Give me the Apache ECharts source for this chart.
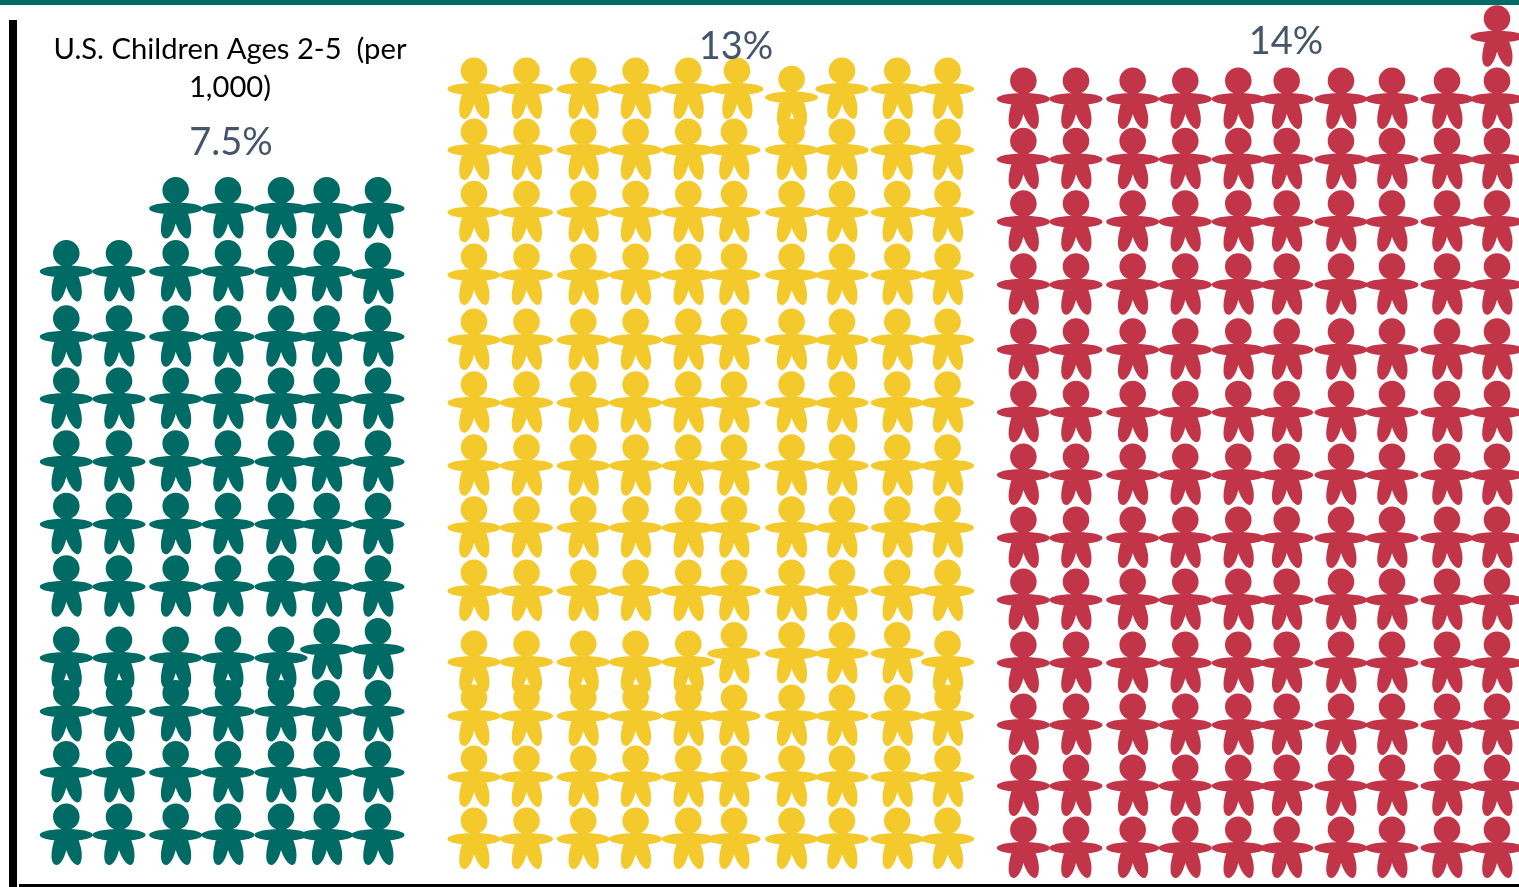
<!DOCTYPE html>
<html>
<head>
<meta charset="utf-8">
<style>html,body{margin:0;padding:0;background:#fff}#c{width:1519px;height:887px}</style>
<script src="https://cdn.jsdelivr.net/npm/echarts@6/dist/echarts.min.js"></script>
</head>
<body>
<div id="c"></div>
<script>
// Values, in the chart's 1519 x 887 axis units.
const heading = 'U.S. Children Ages 2-5  (per\n1,000)';
const shares = ['7.5%', '13%', '14%'];

const tealColumns = [66.3, 119, 175.7, 228, 281, 326.7, 378];
const tealRows = [208.5, 271.5, 336.7, 399, 461.7, 524.3, 586.7, 658, 711.5, 772.5, 835];
const yellowColumns = [474, 526.5, 583.3, 635.6, 688.3, 734, 791.6, 842, 897.3, 947.6];
const yellowRows = [89, 150, 212.3, 275, 340, 402.7, 465.7, 527.7, 591, 662, 716, 777, 839];
const redColumns = [1023.4, 1076, 1132.7, 1185.3, 1238.3, 1286.7, 1341, 1392, 1447, 1497];
const redRows = [99, 159.3, 221.7, 284.7, 349.7, 412.3, 475, 538, 600, 663, 725, 786, 848];

// [column, row] slots the picture leaves empty
const tealEmpty = [[0, 0], [1, 0]];
// [column, row, x shift, y shift] figures that sit off their slot
const tealShifted = [[6, 1, 0, 2.5], [5, 7, 0, -8.5], [6, 7, 0, -8.5]];
const yellowShifted = [[5, 0, 3, 0], [6, 0, 0, 8.3], [5, 9, 0, -8.5], [6, 9, 0, -8.5], [7, 9, 0, -8.5], [8, 9, 0, -8.5]];
// one figure above the grid, top right
const redExtra = [[1497, 36.7]];

const childPath = 'path://' +
  'M0 -31.5C7.35 -31.5 13.3 -25.55 13.3 -18.2C13.3 -10.85 7.35 -4.9 0 -4.9C-7.35 -4.9 -13.3 -10.85 -13.3 -18.2C-13.3 -25.55 -7.35 -31.5 0 -31.5Z' +
  'M-26.5 0C-26.5 -3.6 -14 -5.9 0 -5.9C14 -5.9 26.5 -3.6 26.5 0C26.5 3.6 14 5.9 0 5.9C-14 5.9 -26.5 3.6 -26.5 0Z' +
  'M-11.5 3L11.5 3C13.8 9 15.8 15 15.5 21C15.3 26 14 30 11.5 30C8 30 3 24 0 15C-2 23 -5.5 30 -9.7 30C-13 30 -14.8 26 -14.8 21C-14.8 15 -13.2 9 -11.5 3Z';

function figures(cols, rows, empty, shifted, extra) {
  const out = [];
  rows.forEach((y, r) => cols.forEach((x, c) => {
    if (empty.some(e => e[0] === c && e[1] === r)) return;
    const s = shifted.find(e => e[0] === c && e[1] === r);
    out.push(s ? [x + s[2], y + s[3]] : [x, y]);
  }));
  return out.concat(extra);
}
function people(name, color, data) {
  return {
    name, type: 'scatter', data, symbol: childPath, symbolSize: [53, 61.5], symbolOffset: [0, -0.75],
    itemStyle: { color, opacity: 1 }, silent: true, animation: false
  };
}
const pctStyle = { color: '#44546A', fontFamily: 'Lato', fontSize: 38, fontWeight: 'normal' };

const chart = echarts.init(document.getElementById('c'), null, { renderer: 'canvas' });
chart.setOption({
  animation: false,
  backgroundColor: '#fff',
  grid: { left: 0, right: 0, top: 0, bottom: 0 },
  xAxis: { type: 'value', min: 0, max: 1519, show: false },
  yAxis: { type: 'value', min: 0, max: 887, inverse: true, show: false },
  title: [
    { text: heading, left: 230, top: 31, textAlign: 'center',
      textStyle: { color: '#000', fontFamily: 'Lato', fontSize: 29.2, fontWeight: 'normal', lineHeight: 38 }, padding: 0 },
    { text: shares[0], left: 231, top: 124, textAlign: 'center', textStyle: pctStyle, padding: 0 },
    { text: shares[1], left: 736, top: 28, textAlign: 'center', textStyle: pctStyle, padding: 0 },
    { text: shares[2], left: 1286, top: 23, textAlign: 'center', textStyle: pctStyle, padding: 0 }
  ],
  graphic: [
    { type: 'rect', shape: { x: 0, y: 0, width: 1519, height: 5 }, style: { fill: '#006A64' }, silent: true },
    { type: 'rect', shape: { x: 9, y: 20, width: 8, height: 867 }, style: { fill: '#000' }, silent: true },
    { type: 'rect', shape: { x: 19, y: 884, width: 1500, height: 3 }, style: { fill: '#000' }, silent: true }
  ],
  series: [
    people('Teal', '#006A64', figures(tealColumns, tealRows, tealEmpty, tealShifted, [])),
    people('Yellow', '#F4C92C', figures(yellowColumns, yellowRows, [], yellowShifted, [])),
    people('Red', '#C23548', figures(redColumns, redRows, [], [], redExtra))
  ]
});
</script>
</body>
</html>
